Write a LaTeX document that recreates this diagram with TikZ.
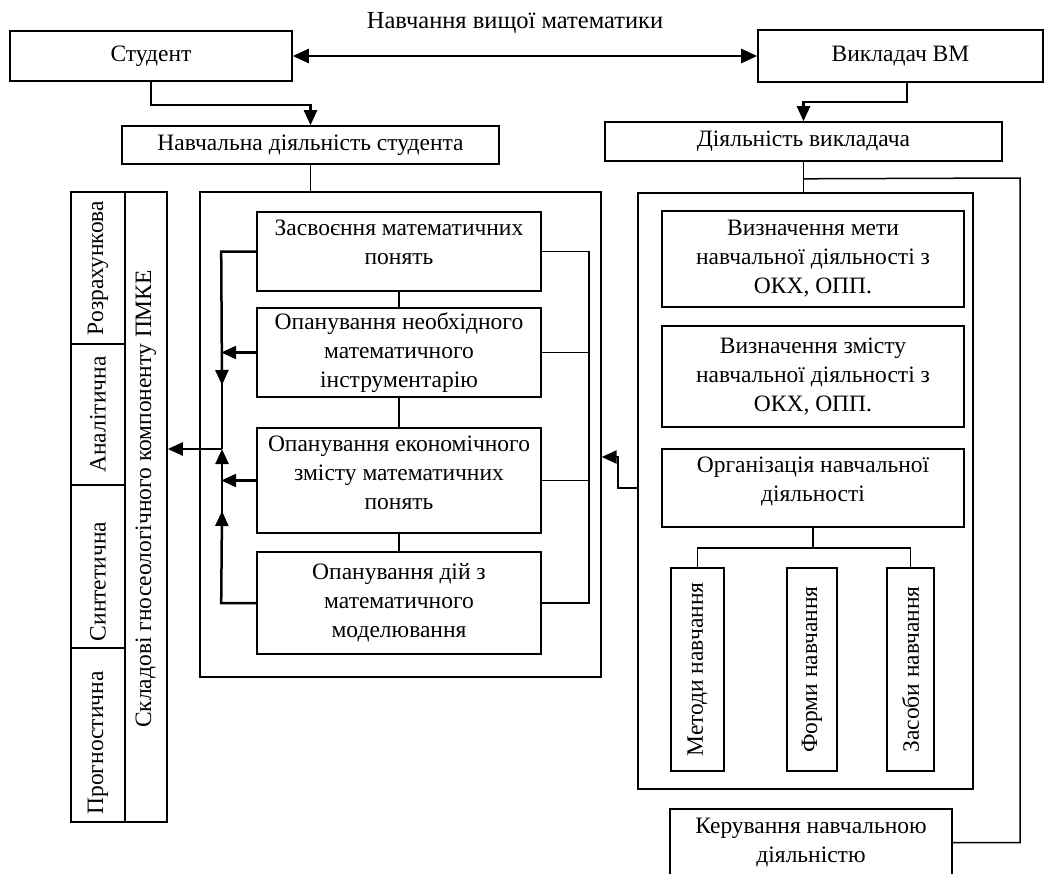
\documentclass[tikz,border=0pt]{standalone}
\usepackage{fontspec}
\setmainfont{Liberation Serif}
\usetikzlibrary{arrows.meta,calc}
\begin{document}
\begin{tikzpicture}[x=1pt,y=-1pt,
  every node/.style={font=\fontsize{23.5}{29}\selectfont},
  box/.style={draw,line width=1.6pt,rectangle,inner sep=0pt,align=center},
  thinbox/.style={draw,line width=1.3pt,rectangle,inner sep=0pt,align=center},
  conn/.style={line width=2.5pt},
  thin/.style={line width=1.5pt},
  tip/.style={-{Triangle[length=15pt,width=13pt]}},
  dtip/.style={{Triangle[length=16pt,width=14pt]}-{Triangle[length=16pt,width=14pt]}}
]
\useasboundingbox (0,0) rectangle (1044,873);

\node[font=\fontsize{24.5}{29}\selectfont] (title) at (515,23) {Навчання вищої математики};

\node[box,minimum width=282,minimum height=50] (stud) at (151,56) {\raisebox{5pt}{Студент}};
\node[box,minimum width=285,minimum height=52] (vykl) at (900.5,56) {\raisebox{5pt}{Викладач ВМ}};

\node[box,minimum width=377,minimum height=38] (nds) at (310.5,145) {Навчальна діяльність студента};
\node[box,minimum width=397,minimum height=39] (dv) at (803.5,141.5) {Діяльність викладача};

\node[thinbox,minimum width=401,minimum height=485] (bigL) at (400.5,434.5) {};
\node[box,minimum width=335,minimum height=596] (bigR) at (805.5,491) {};

% left inner boxes
\node[box,minimum width=284,minimum height=79] (L1) at (399,251.5) {Засвоєння математичних\\понять\\[-10pt]\mbox{}};
\node[box,minimum width=284,minimum height=89] (L2) at (399,352.5) {Опанування необхідного\\математичного\\інструментарію};
\node[box,minimum width=284,minimum height=105] (L3) at (399,480.5) {Опанування економічного\\змісту математичних\\понять\\[-14pt]\mbox{}};
\node[box,minimum width=284,minimum height=102] (L4) at (399,603) {Опанування дій з\\математичного\\моделювання};

% right inner boxes
\node[box,minimum width=302,minimum height=96] (R1) at (813,259) {Визначення мети\\навчальної діяльності з\\ОКХ, ОПП.};
\node[box,minimum width=302,minimum height=101] (R2) at (813,376.5) {Визначення змісту\\навчальної діяльності з\\ОКХ, ОПП.};
\node[box,minimum width=302,minimum height=78] (R3) at (813,488) {Організація навчальної\\діяльності\\[-12pt]\mbox{}};

\node[box,rotate=90,minimum width=203,minimum height=53] (M) at (697.5,669.5) {Методи навчання};
\node[box,rotate=90,minimum width=203,minimum height=50] (F) at (812,669.5) {Форми навчання};
\node[box,rotate=90,minimum width=203,minimum height=47] (Z) at (910.5,669.5) {Засоби навчання};

\node[box,minimum width=282,minimum height=67] (K) at (811,842.5) {Керування навчальною\\діяльністю};

% left columns
\node[box,rotate=90,minimum width=152,minimum height=54] (c1) at (98,268) {Розрахункова};
\node[box,rotate=90,minimum width=141,minimum height=54] (c2) at (98,414.5) {Аналітична};
\node[box,rotate=90,minimum width=163,minimum height=54] (c3) at (98,566.5) {Синтетична\hspace*{30pt}};
\node[box,rotate=90,minimum width=174,minimum height=54] (c4) at (98,735) {Прогностична\hspace*{16pt}};
\node[box,rotate=90,minimum width=630,minimum height=42] (col) at (146,507) {\hspace*{16pt}Складові гносеологічного компоненту ПМКЕ};

% top connectors
\draw[conn,dtip] (stud.east) -- (vykl.west);
\draw[conn,tip] (stud.south) -- ++(0,23) -| (nds.north);
\draw[conn,tip] ([xshift=6.5pt]vykl.south) -- ++(0,19) -| (dv.north);
\draw[thin] (nds.south) -- (nds.south |- bigL.north);
\draw[thin] (dv.south) -- (dv.south |- bigR.north);

% to Керування
\coordinate (rr) at (1020,178);
\draw[thin] ($(dv.south)+(0,17)$) -- (rr) |- (K.east);

% inner left joins
\draw[thin] (L1.south) -- (L2.north);
\draw[thin] (L2.south) -- (L3.north);
\draw[thin] (L3.south) -- (L4.north);

% right side of left inner boxes
\coordinate (rt) at ($(L1.east)+(47,0)$);
\draw[thin] (L1.east) -- (rt) |- (L4.east);
\draw[thin] (L2.east) -- (L2.east -| rt);
\draw[thin] (L3.east) -- (L3.east -| rt);

% left side arrows
\coordinate (lt) at ($(L1.west)+(-35,0)$);
\coordinate (jn) at (222,449);
\coordinate (d1) at (222,385);
\coordinate (u1) at (222,511);
\draw[conn,tip] (L1.west) -- (lt) -- (d1);
\draw[conn] (222,380) -- (jn);
\draw[conn,tip] (L4.west) -- (L4.west -| lt) -- (u1);
\draw[conn,tip] (222,516) -- (jn);
\draw[conn,tip] (L2.west) -- (L2.west -| lt);
\draw[conn,tip] (L3.west) -- (L3.west -| lt);
\draw[conn,tip] (jn) -- (jn -| col.south);

% Організація -> left block
\draw[conn,tip] (bigR.west |- R3.west) -- ++(-19,0) |- ([yshift=-22.5pt]bigL.east);

% tree
\coordinate (tj) at ($(R3.south)+(0,20)$);
\draw[thin] (R3.south) -- (tj) -- (tj -| F.east);
\draw[thin] (M.east) |- (tj) -| (Z.east);
\end{tikzpicture}
\end{document}
